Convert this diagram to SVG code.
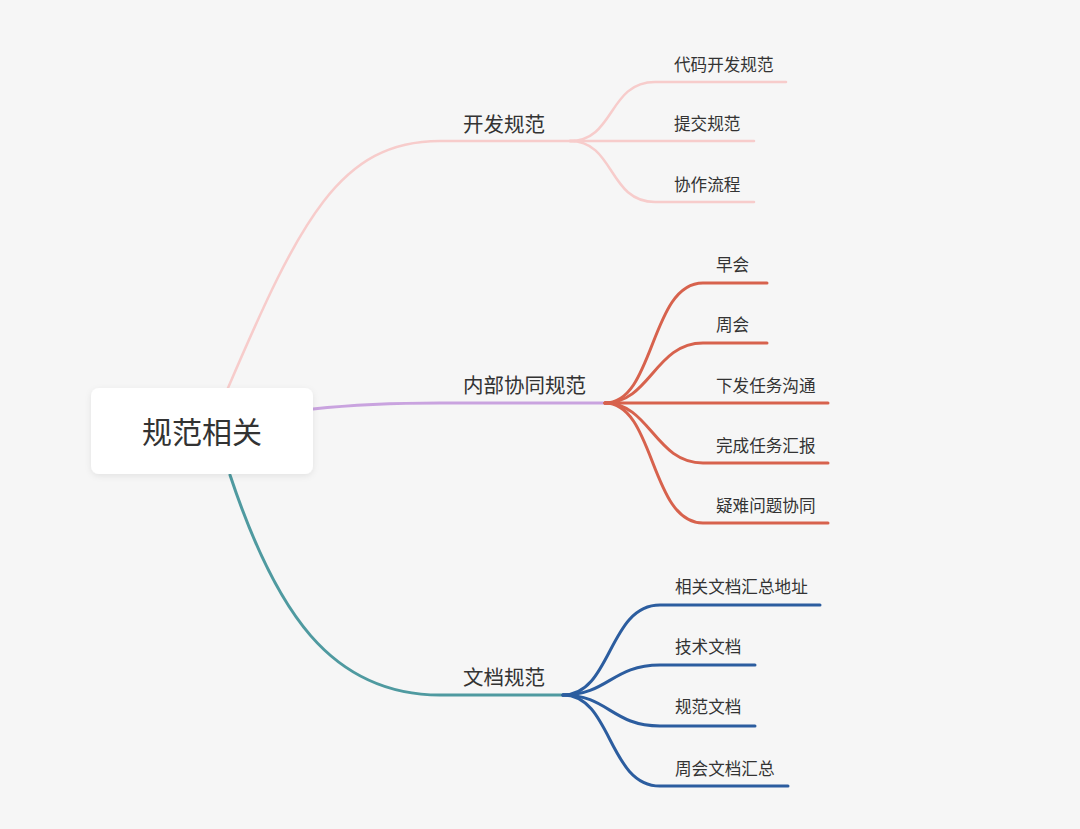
<svg xmlns="http://www.w3.org/2000/svg" width="1080" height="829" viewBox="0 0 1080 829">
<defs>
<filter id="sh" x="-10%" y="-20%" width="120%" height="150%"><feDropShadow dx="0" dy="2" stdDeviation="3" flood-color="#000" flood-opacity="0.08"/></filter>
<style>
text{font-family:"Noto Sans CJK SC","Noto Sans",sans-serif;fill:#333}
.root{font-size:30px}
.br{font-size:20.5px}
.lf{font-size:16.6px}
.c{fill:none;stroke-linecap:round}
.pink{stroke:#f7cccb;stroke-width:2.5}
.purple{stroke:#c9a3df;stroke-width:3}
.red{stroke:#d7624d;stroke-width:3}
.teal{stroke:#4f9aa0;stroke-width:3}
.blue{stroke:#2c5d9f;stroke-width:3}
</style>
</defs>
<rect width="1080" height="829" fill="#f6f6f6"/>
<g id="connectors">
<path class="c pink" d="M228,388 C300,220 340,141 440,141 L575,141"/>
<path class="c pink" d="M570,141 C615,141 608,82 655,82 L786,82"/>
<path class="c pink" d="M570,141 L754,141"/>
<path class="c pink" d="M570,141 C615,141 608,202 655,202 L754,202"/>
<path class="c purple" d="M313,409 C360,404 400,403 440,403 L605,403"/>
<path class="c red" d="M605,403 C655,403 650,283 703,283 L767,283"/>
<path class="c red" d="M605,403 C650,403 655,343 703,343 L767,343"/>
<path class="c red" d="M605,403 L828,403"/>
<path class="c red" d="M605,403 C650,403 655,463 703,463 L828,463"/>
<path class="c red" d="M605,403 C655,403 650,523 703,523 L828,523"/>
<path class="c teal" d="M230,475 C275,610 330,695 440,695 L563,695"/>
<path class="c blue" d="M563,695 C612,695 608,605 660,605 L820,605"/>
<path class="c blue" d="M563,695 C608,695 612,665 660,665 L755,665"/>
<path class="c blue" d="M563,695 C608,695 612,726 660,726 L755,726"/>
<path class="c blue" d="M563,695 C612,695 608,786 660,786 L788,786"/>
</g>
<g id="root">
<rect x="91" y="388" width="222" height="86" rx="8" fill="#fff" filter="url(#sh)"/>
<text class="root" x="202" y="443" text-anchor="middle">规范相关</text>
</g>
<g id="b1"><text class="br" x="463" y="132">开发规范</text></g>
<g id="b1c1"><text class="lf" x="674" y="71">代码开发规范</text></g>
<g id="b1c2"><text class="lf" x="674" y="130">提交规范</text></g>
<g id="b1c3"><text class="lf" x="674" y="191">协作流程</text></g>
<g id="b2"><text class="br" x="463" y="393">内部协同规范</text></g>
<g id="b2c1"><text class="lf" x="716" y="271">早会</text></g>
<g id="b2c2"><text class="lf" x="716" y="331">周会</text></g>
<g id="b2c3"><text class="lf" x="716" y="392">下发任务沟通</text></g>
<g id="b2c4"><text class="lf" x="716" y="452">完成任务汇报</text></g>
<g id="b2c5"><text class="lf" x="716" y="512">疑难问题协同</text></g>
<g id="b3"><text class="br" x="463" y="685">文档规范</text></g>
<g id="b3c1"><text class="lf" x="675" y="593">相关文档汇总地址</text></g>
<g id="b3c2"><text class="lf" x="675" y="653">技术文档</text></g>
<g id="b3c3"><text class="lf" x="675" y="713">规范文档</text></g>
<g id="b3c4"><text class="lf" x="675" y="775">周会文档汇总</text></g>
</svg>
